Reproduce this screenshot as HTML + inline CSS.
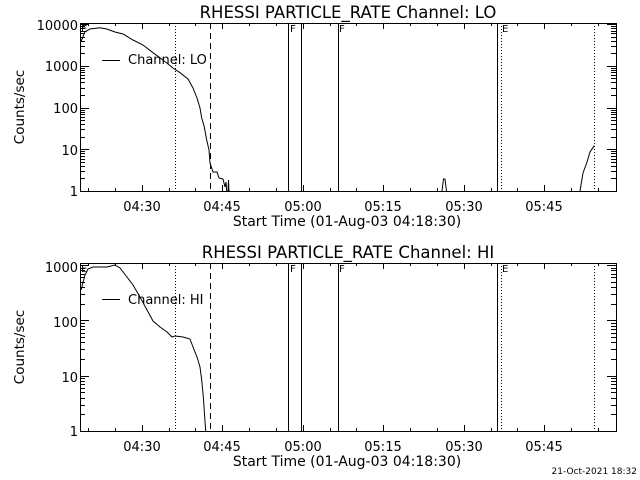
<!DOCTYPE html>
<html><head><style>
html,body{margin:0;padding:0;background:#fff;}
svg{display:block;}
text{font-family:"DejaVu Sans","Liberation Sans",sans-serif;fill:#000;}
</style></head><body>
<svg id="s" width="640" height="480" viewBox="0 0 640 480" xmlns="http://www.w3.org/2000/svg" shape-rendering="crispEdges">
<rect width="640" height="480" fill="#fff"/>
<g font-size="16.5">
<text x="348" y="18" text-anchor="middle">RHESSI PARTICLE_RATE Channel: LO</text>
<text x="348" y="258" text-anchor="middle">RHESSI PARTICLE_RATE Channel: HI</text>
</g>
<g font-size="13">
<text x="347" y="226" text-anchor="middle" font-size="14">Start Time (01-Aug-03 04:18:30)</text>
<text x="347" y="466" text-anchor="middle" font-size="14">Start Time (01-Aug-03 04:18:30)</text>
<text transform="translate(24,107) rotate(-90)" text-anchor="middle" font-size="13.5">Counts/sec</text>
<text transform="translate(24,347) rotate(-90)" text-anchor="middle" font-size="13.5">Counts/sec</text>
<g text-anchor="middle">
<text x="142" y="211">04:30</text><text x="222" y="211">04:45</text><text x="303" y="211">05:00</text><text x="383" y="211">05:15</text><text x="464" y="211">05:30</text><text x="544" y="211">05:45</text>
<text x="142" y="451">04:30</text><text x="222" y="451">04:45</text><text x="303" y="451">05:00</text><text x="383" y="451">05:15</text><text x="464" y="451">05:30</text><text x="544" y="451">05:45</text>
</g>
<g text-anchor="end">
<text x="78" y="30">10000</text><text x="78" y="71">1000</text><text x="78" y="113">100</text><text x="78" y="155">10</text><text x="78" y="196">1</text>
<text x="78" y="272">1000</text><text x="78" y="327">100</text><text x="78" y="382">10</text><text x="78" y="436">1</text>
</g>
<text x="128" y="64">Channel: LO</text>
<text x="128" y="304">Channel: HI</text>
</g>
<text x="637" y="474" font-size="9" text-anchor="end">21-Oct-2021 18:32</text>
<g font-size="10">
<text x="290" y="32">F</text><text x="339" y="32">F</text><text x="502" y="32">E</text><text x="81" y="32">E</text>
<text x="290" y="272">F</text><text x="339" y="272">F</text><text x="502" y="272">E</text><text x="81" y="272">E</text>
</g>
<g id="axes" stroke="#000" fill="none" stroke-width="1"></g>
<g fill="none" stroke="#000" stroke-width="1" shape-rendering="auto">
<line x1="102" y1="60.5" x2="120" y2="60.5"/>
<line x1="102" y1="299.5" x2="120" y2="299.5"/>
<polyline points="81,41.7 85,31.7 90,29 100,27.7 106.7,29 115,32 123,34 133,40 143,45 153,52.7 163,60 173,68 180,72.7 188,79 193,88 197,98 200,108 201.7,118 204.3,127 206.7,140 209,150 210,163 213,172 217,172 219,178 223,179 225,187 226,182 226.7,191"/>
<polyline points="228,191 228.5,180 229,191"/>
<polyline points="442,191 443.5,179 445,179 446.5,191"/>
<polyline points="580,191 583,173 586.7,163 590,152 594.3,145.7"/>
<polyline points="81,290 85,275 88,269 93,267 107,267 115,265 120,268 127,277 133,285 140,297 147,310 153,321 160,327 167,332 172,337 175,336 183,337 190,339 193,347 197,357 200,367 201.7,380 203.3,397 204.7,417 205.7,431"/>
</g>
</svg>
<script>
var g=document.getElementById('axes'),ns='http://www.w3.org/2000/svg';
function L(x1,y1,x2,y2,d){var l=document.createElementNS(ns,'line');l.setAttribute('x1',x1);l.setAttribute('y1',y1);l.setAttribute('x2',x2);l.setAttribute('y2',y2);if(d)l.setAttribute('stroke-dasharray',d);g.appendChild(l);}
function panel(top,bot,y1val,dec,ndec){
 var r=document.createElementNS(ns,'rect');r.setAttribute('x',80.5);r.setAttribute('y',top+.5);r.setAttribute('width',536);r.setAttribute('height',bot-top);g.appendChild(r);
 var ppm=5.367;
 for(var m=-10;m<=100;m+=5){var x=141.7+m*ppm;if(x<=81||x>=616)continue;x=Math.round(x)+.5;var len=(m%15==0)?6:3;L(x,bot,x,bot-len);L(x,top,x,top+len);}
 for(var d=0;d<=ndec;d++){for(var k=1;k<10;k++){var y=y1val-(d+Math.log10(k))*dec;if(y<top)continue;y=Math.round(y)+.5;var len=k==1?9:5;L(80,y,80+len,y);L(616,y,616-len,y);}}
 [288.5,301.5,338.5,497.5].forEach(function(x){L(x,top,x,bot);});
 [175.5,501.5,594.5].forEach(function(x){L(x,top,x,bot,'1,2');});
 L(210.5,top,210.5,bot,'6,4');
}
panel(23,191,191,41.7,4);
panel(263,431,431,55.3,3);
</script>
</body></html>
